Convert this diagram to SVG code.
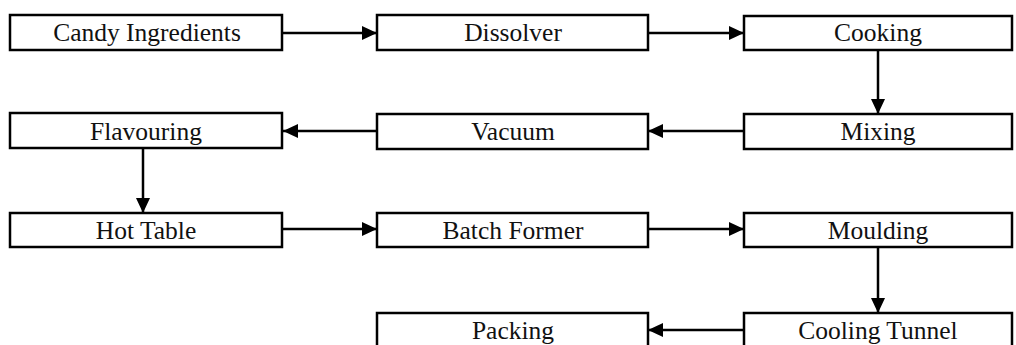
<svg xmlns="http://www.w3.org/2000/svg" width="1016" height="345" viewBox="0 0 1016 345">
<style>
.box{fill:#fff;stroke:#000;stroke-width:2.5}
.lbl{font-family:"Liberation Serif","Times New Roman",serif;font-size:25.5px;fill:#111;text-anchor:middle}
.con{stroke:#000;stroke-width:2.5;fill:none;marker-end:url(#ah)}
</style>
<defs>
<marker id="ah" markerUnits="userSpaceOnUse" markerWidth="16" markerHeight="14" refX="15" refY="7" orient="auto">
<path d="M0,0 L15,7 L0,14 Z" fill="#000"/>
</marker>
</defs>
<rect width="1016" height="345" fill="#fff"/>
<g id="connectors">
<line class="con" x1="283" y1="33" x2="377" y2="33"/>
<line class="con" x1="648" y1="33" x2="744" y2="33"/>
<line class="con" x1="878" y1="50" x2="878" y2="114"/>
<line class="con" x1="744" y1="131" x2="648" y2="131"/>
<line class="con" x1="377" y1="131" x2="283" y2="131"/>
<line class="con" x1="143" y1="148" x2="143" y2="213"/>
<line class="con" x1="283" y1="229" x2="377" y2="229"/>
<line class="con" x1="648" y1="229" x2="744" y2="229"/>
<line class="con" x1="878" y1="247" x2="878" y2="313"/>
<line class="con" x1="744" y1="330" x2="648" y2="330"/>
</g>
<g id="candy"><rect class="box" x="10" y="15" width="272" height="35"/><text class="lbl" x="147" y="41">Candy Ingredients</text></g>
<g id="dissolver"><rect class="box" x="377" y="15" width="271" height="35"/><text class="lbl" x="513" y="41">Dissolver</text></g>
<g id="cooking"><rect class="box" x="744" y="16" width="268" height="34"/><text class="lbl" x="878" y="41">Cooking</text></g>
<g id="flavouring"><rect class="box" x="10" y="113" width="272" height="35"/><text class="lbl" x="146" y="140">Flavouring</text></g>
<g id="vacuum"><rect class="box" x="377" y="114" width="271" height="35"/><text class="lbl" x="513" y="140">Vacuum</text></g>
<g id="mixing"><rect class="box" x="744" y="114" width="268" height="35"/><text class="lbl" x="878" y="140">Mixing</text></g>
<g id="hottable"><rect class="box" x="10" y="213" width="272" height="34"/><text class="lbl" x="146" y="239">Hot Table</text></g>
<g id="batchformer"><rect class="box" x="377" y="213" width="271" height="34"/><text class="lbl" x="513" y="239">Batch Former</text></g>
<g id="moulding"><rect class="box" x="744" y="213" width="268" height="34"/><text class="lbl" x="878" y="239">Moulding</text></g>
<g id="packing"><rect class="box" x="377" y="313" width="271" height="36"/><text class="lbl" x="513" y="339">Packing</text></g>
<g id="coolingtunnel"><rect class="box" x="744" y="313" width="268" height="36"/><text class="lbl" x="878" y="339">Cooling Tunnel</text></g>
</svg>
